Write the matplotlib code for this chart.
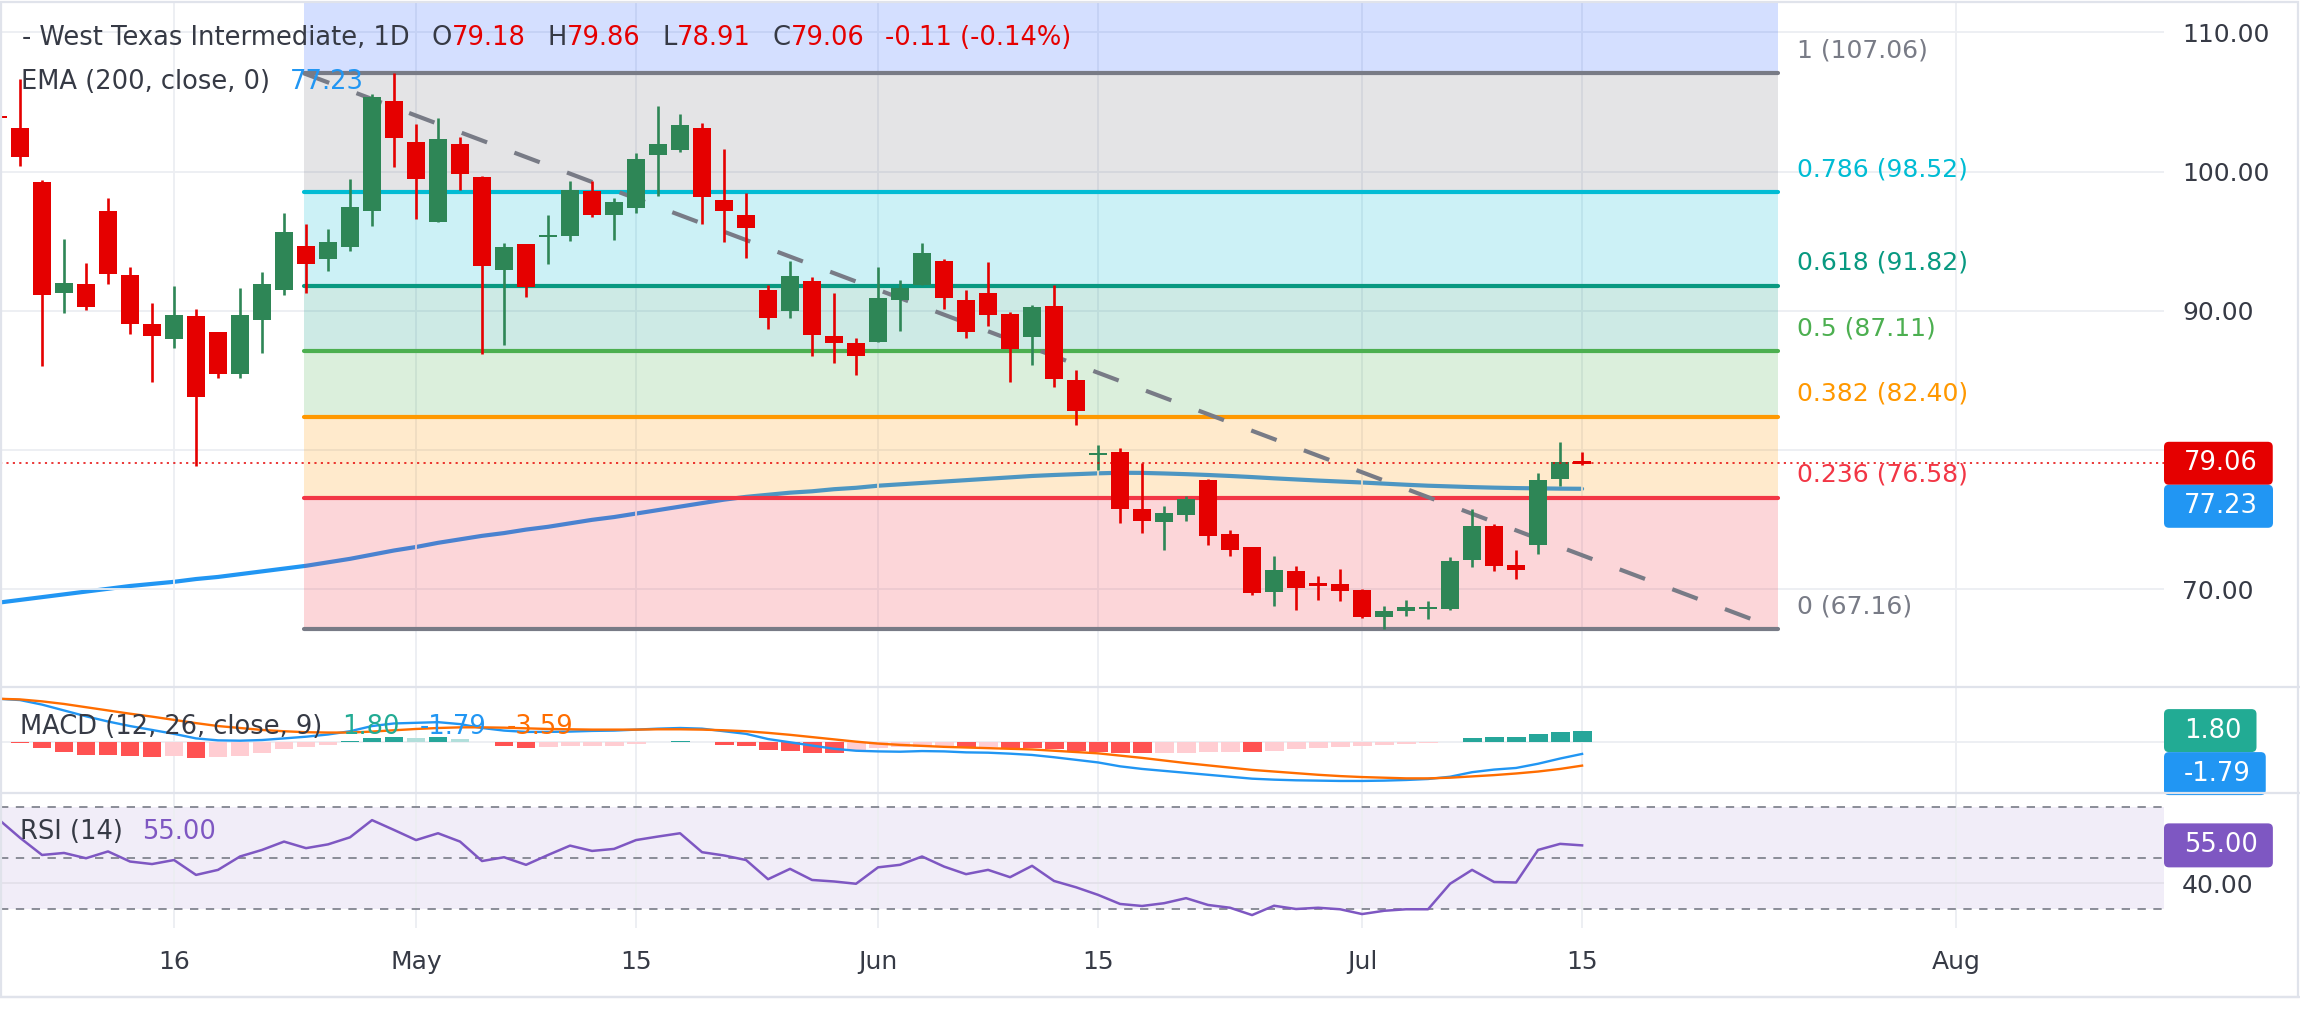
import numpy as np
import matplotlib
matplotlib.use("Agg")
import matplotlib.pyplot as plt
from matplotlib.patches import FancyBboxPatch, Rectangle
from matplotlib.lines import Line2D

plt.rcParams['font.family'] = ['DejaVu Sans']

# ---- daily candles (first one is cut off at the left edge) ----
opens = [103.95, 103.11, 99.25, 91.31, 91.93, 97.17, 92.58, 89.06, 88.0, 89.63, 88.49,
         85.47, 89.37, 91.5, 94.66, 93.75, 94.61, 97.2, 105.07, 102.13, 96.41, 101.98,
         99.61, 92.94, 94.8, 95.35, 95.4, 98.6, 96.91, 97.41, 101.19, 101.55, 103.11,
         97.96, 96.89, 91.5, 90.02, 92.15, 88.2, 87.68, 87.8, 90.81, 91.86, 93.59, 90.79,
         91.29, 89.78, 88.15, 90.35, 85.04, 79.7, 79.87, 75.78, 74.87, 75.37, 77.86, 73.98,
         73.05, 69.85, 71.33, 70.4, 70.4, 69.96, 68.03, 68.43, 68.66, 68.6, 72.12, 74.56,
         71.76, 73.22, 77.96, 79.18]
highs = [104.3, 106.65, 99.4, 95.16, 93.44, 98.1, 93.15, 90.57, 91.79, 90.11, 88.5,
         91.64, 92.79, 97.03, 96.24, 95.88, 99.47, 105.6, 107.06, 103.42, 103.85, 102.49,
         99.68, 94.88, 94.8, 96.89, 99.33, 99.33, 98.1, 101.34, 104.71, 104.14, 103.47,
         101.62, 98.44, 91.86, 93.59, 92.43, 91.29, 88.06, 93.15, 92.22, 94.88, 93.73, 91.5,
         93.51, 89.92, 90.42, 91.86, 85.76, 80.38, 80.16, 79.11, 75.99, 76.71, 77.96, 74.27,
         73.05, 72.41, 71.69, 70.97, 71.47, 70.04, 68.82, 69.25, 69.17, 72.33, 75.78, 74.7,
         72.84, 78.36, 80.59, 79.86]
lows = [103.5, 100.43, 86.07, 89.87, 90.07, 91.95, 88.37, 84.92, 87.36, 78.89, 85.21,
        85.21, 87.0, 91.14, 91.31, 92.89, 94.33, 96.12, 100.36, 96.57, 96.41, 98.71,
        86.93, 87.58, 91.0, 93.39, 95.04, 96.77, 95.11, 97.06, 98.27, 101.41, 96.24,
        94.95, 93.82, 88.73, 89.52, 86.79, 86.29, 85.42, 87.8, 88.58, 91.86, 90.14, 88.08,
        88.94, 84.92, 86.14, 84.56, 81.83, 78.58, 74.8, 74.08, 72.86, 74.94, 73.22, 72.43,
        69.61, 68.82, 68.53, 69.25, 69.17, 67.96, 67.16, 68.1, 67.88, 68.55, 71.62, 71.33,
        70.75, 72.57, 77.43, 78.91]
closes = [103.85, 101.07, 91.14, 92.0, 90.3, 92.67, 89.08, 88.22, 89.7, 83.84, 85.47,
          89.7, 91.93, 95.67, 93.39, 94.95, 97.46, 105.36, 102.44, 99.49, 102.34, 99.85,
          93.25, 94.59, 91.72, 95.45, 98.68, 96.91, 97.82, 100.9, 101.98, 103.35, 98.2,
          97.2, 95.98, 89.52, 92.51, 88.3, 87.68, 86.79, 90.93, 91.64, 94.16, 90.93, 88.51,
          89.73, 87.29, 90.28, 85.14, 82.84, 79.75, 75.8, 74.94, 75.47, 76.5, 73.87, 72.86,
          69.77, 71.4, 70.13, 70.3, 69.92, 68.03, 68.46, 68.74, 68.7, 72.05, 74.56, 71.69,
          71.43, 77.86, 79.17, 79.06]

ema200 = [69.05, 69.25, 69.45, 69.65, 69.85, 70.05, 70.25, 70.4, 70.55, 70.75, 70.9,
          71.1, 71.3, 71.5, 71.7, 71.95, 72.2, 72.5, 72.8, 73.05, 73.35, 73.6, 73.85,
          74.05, 74.3, 74.5, 74.75, 75.0, 75.2, 75.45, 75.7, 75.95, 76.2, 76.45, 76.65,
          76.8, 76.95, 77.05, 77.2, 77.3, 77.45, 77.55, 77.65, 77.75, 77.85, 77.95, 78.05,
          78.15, 78.22, 78.28, 78.34, 78.38, 78.37, 78.33, 78.28, 78.22, 78.15, 78.07,
          77.98, 77.9, 77.82, 77.75, 77.68, 77.6, 77.52, 77.45, 77.4, 77.35, 77.31, 77.28,
          77.26, 77.24, 77.23]

macd_line = [6.7, 6.5, 5.8, 4.9, 4.0, 3.2, 2.5, 1.9, 1.3, 0.6, 0.3, 0.25, 0.35, 0.6, 0.86,
             1.2, 1.7, 2.5, 2.9, 3.0, 3.1, 2.8, 2.2, 1.8, 1.6, 1.6, 1.65, 1.75, 1.8, 1.95,
             2.1, 2.2, 2.1, 1.7, 1.3, 0.5, 0.0, -0.5, -1.0, -1.3, -1.4, -1.45, -1.35, -1.4,
             -1.55, -1.6, -1.75, -1.95, -2.3, -2.7, -3.1, -3.7, -4.1, -4.4, -4.7, -5.0, -5.3,
             -5.6, -5.75, -5.85, -5.9, -5.95, -5.95, -5.9, -5.8, -5.65, -5.3, -4.6, -4.2,
             -3.95, -3.3, -2.5, -1.79]
signal_line = [6.7, 6.6, 6.3, 5.9, 5.4, 4.9, 4.4, 3.95, 3.45, 2.95, 2.5, 2.2, 1.9, 1.7,
               1.55, 1.5, 1.5, 1.65, 1.85, 2.05, 2.2, 2.3, 2.3, 2.25, 2.15, 2.05, 2.0, 1.95,
               1.95, 1.95, 2.0, 2.0, 1.95, 1.85, 1.7, 1.45, 1.15, 0.8, 0.45, 0.1, -0.2, -0.4,
               -0.55, -0.7, -0.8, -0.9, -1.0, -1.1, -1.3, -1.5, -1.7, -2.05, -2.4, -2.8,
               -3.2, -3.55, -3.9, -4.25, -4.5, -4.75, -5.0, -5.2, -5.35, -5.45, -5.55,
               -5.55, -5.45, -5.25, -5.05, -4.8, -4.5, -4.1, -3.59]
macd_hist = [0.05, -0.15, -0.92, -1.44, -1.95, -1.97, -2.1, -2.2, -2.15, -2.36, -2.3, -2.1,
             -1.59, -1.08, -0.67, -0.46, 0.2, 0.62, 0.87, 0.62, 0.87, 0.56, 0.1, -0.51,
             -0.82, -0.8, -0.56, -0.51, -0.5, -0.26, 0.1, 0.2, 0.1, -0.36, -0.51, -1.18,
             -1.33, -1.59, -1.69, -1.33, -0.92, -0.67, -0.66, -0.65, -0.82, -0.8, -0.87,
             -0.92, -1.08, -1.33, -1.55, -1.62, -1.69, -1.66, -1.59, -1.5, -1.44, -1.46,
             -1.28, -1.08, -0.82, -0.67, -0.56, -0.41, -0.31, -0.15, 0.1, 0.62, 0.77, 0.78,
             1.28, 1.64, 1.80]

rsi14 = [65.5, 58.0, 51.2, 52.0, 49.9, 52.6, 48.6, 47.6, 49.2, 43.3, 45.3, 50.6, 53.2,
         56.5, 53.9, 55.4, 58.2, 65.0, 61.1, 57.1, 59.8, 56.5, 48.8, 50.3, 47.3, 51.2,
         54.9, 52.8, 53.6, 57.1, 58.5, 59.8, 52.3, 51.0, 49.2, 41.6, 45.7, 41.3, 40.7,
         39.8, 46.3, 47.3, 50.6, 46.6, 43.6, 45.3, 42.4, 46.9, 40.9, 38.4, 35.4, 31.8,
         31.0, 32.1, 34.1, 31.4, 30.3, 27.4, 31.1, 29.8, 30.3, 29.7, 27.8, 29.1, 29.7,
         29.7, 39.8, 45.3, 40.5, 40.3, 53.2, 55.6, 55.0]

# fibonacci retracement drawing (anchor bars and levels)
fib_bars = [12.9, 79.9]
fib_ratios = ["0", "0.236", "0.382", "0.5", "0.618", "0.786", "1", "1.618"]
fib_prices = [67.16, 76.58, 82.40, 87.11, 91.82, 98.52, 107.06, 131.72]
fib_colors = ['#787b86', '#f23645', '#ff9800', '#4caf50', '#089981', '#00bcd4',
              '#787b86', '#2962ff']

date_ticks = [7, 18, 28, 39, 49, 61, 71, 88]
date_labels = ['16', 'May', '15', 'Jun', '15', 'Jul', '15', 'Aug']
price_ticks = [70, 80, 90, 100, 110]

RED = '#e50000'
GREEN = '#2e8656'
TXT = '#363a45'
GRID = '#eceef2'

W, H = 2300, 1030
fig = plt.figure(figsize=(W / 100, H / 100), dpi=100)


def px_axes(x0, y0, x1, y1):
    a = fig.add_axes([x0 / W, 1 - y1 / H, (x1 - x0) / W, (y1 - y0) / H])
    for s in a.spines.values():
        s.set_visible(False)
    a.set_xlim(-0.91, 97.45)
    a.set_xticks(date_ticks)
    a.grid(axis='x', color=GRID, lw=1.3, zorder=0)
    a.tick_params(length=0, labelbottom=False, labelleft=False)
    return a


ax = px_axes(0, 2, 2164, 686)
ax_macd = px_axes(0, 687, 2164, 792)
ax_rsi = px_axes(0, 793, 2164, 928)

x = np.arange(len(opens)) - 1
o, hi, lo, c = map(np.array, (opens, highs, lows, closes))

# ---- main price pane ----
ax.set_ylim(63.07, 112.18)
ax.set_yticks(price_ticks)
ax.set_yticklabels([f"{p:.2f}" for p in price_ticks])
ax.yaxis.tick_right()
ax.tick_params(axis='y', length=0, pad=13, labelsize=18, labelcolor=TXT, labelright=True)
ax.grid(axis='y', color=GRID, lw=1.3, zorder=0)

ax.plot(x, ema200, color='#2196f3', lw=3, zorder=1.5, solid_capstyle='round')

for i in range(1, len(fib_prices)):
    ax.fill_between(fib_bars, fib_prices[i - 1], fib_prices[i], color=fib_colors[i],
                    alpha=0.2, lw=0, zorder=2)
for r, p, col in zip(fib_ratios[:-1], fib_prices[:-1], fib_colors[:-1]):
    ax.plot(fib_bars, [p, p], color=col, lw=3, solid_capstyle='round', zorder=3)
    ax.annotate(f"{r} ({p:.2f})", xy=(fib_bars[1], p), xytext=(19, 23),
                textcoords='offset pixels', color=col, fontsize=18, va='center', ha='left')
ax.plot(fib_bars, [fib_prices[6], fib_prices[0]], color='#787b86', lw=3,
        dashes=(6.5, 7), zorder=3.5)

cols = np.where(c >= o, GREEN, RED)
body_h = np.maximum(np.abs(c - o), 0.16)
body_b = (o + c) / 2 - body_h / 2
ax.vlines(x, lo, hi, colors=cols, lw=1.9, zorder=4)
ax.bar(x, body_h, bottom=body_b, width=0.82, color=cols, zorder=5)

ax.axhline(closes[-1], color=RED, lw=1.1, ls=(0, (1.4, 2.8)), zorder=6)

# ---- MACD pane ----
ax_macd.set_ylim(-7.65, 8.51)
ax_macd.set_yticks([0])
ax_macd.grid(axis='y', color=GRID, lw=1.3, zorder=0)
hcols = []
for i, h in enumerate(macd_hist):
    prev = macd_hist[i - 1] if i > 0 else h
    if h >= 0:
        hcols.append('#26a69a' if h >= prev else '#b2dfdb')
    else:
        hcols.append('#ffcdd2' if h > prev else '#ff5252')
ax_macd.bar(x, macd_hist, width=0.86, color=hcols, zorder=2)
ax_macd.plot(x, macd_line, color='#2196f3', lw=1.7, zorder=3)
ax_macd.plot(x, signal_line, color='#ff6d00', lw=1.7, zorder=3)

# ---- RSI pane ----
ax_rsi.set_ylim(22.28, 75.74)
ax_rsi.set_yticks([40])
ax_rsi.set_yticklabels(["40.00"])
ax_rsi.yaxis.tick_right()
ax_rsi.tick_params(axis='y', length=0, pad=13, labelsize=18, labelcolor=TXT, labelright=True)
ax_rsi.grid(axis='y', color='#e3e0ea', lw=1.3, zorder=1)
ax_rsi.axhspan(30, 70, color='#7e57c2', alpha=0.1, lw=0, zorder=0.5)
for lvl in (70, 50, 30):
    ax_rsi.axhline(lvl, color='#787b86', lw=1.2, dashes=(5, 4.5), zorder=2)
ax_rsi.plot(x, rsi14, color='#7e57c2', lw=1.8, zorder=3)
ax_rsi.set_xticklabels(date_labels)
ax_rsi.tick_params(axis='x', labelbottom=True, labelsize=18, labelcolor=TXT, pad=16)

# ---- legends ----
renderer = fig.canvas.get_renderer()


def legend_row(x0, y, pieces, size=18.5):
    xx = x0
    for txt, col, gap in pieces:
        xx += gap
        t = fig.text(xx / W, 1 - y / H, txt, color=col, fontsize=size, va='center', ha='left')
        xx = t.get_window_extent(renderer).x1


chg = closes[-1] - closes[-2]
pct = chg / closes[-2] * 100
legend_row(22, 38, [("- West Texas Intermediate, 1D", TXT, 0),
                    ("O", TXT, 22), (f"{opens[-1]:.2f}", RED, 0),
                    ("H", TXT, 22), (f"{highs[-1]:.2f}", RED, 0),
                    ("L", TXT, 22), (f"{lows[-1]:.2f}", RED, 0),
                    ("C", TXT, 22), (f"{closes[-1]:.2f}", RED, 0),
                    (f"{chg:.2f} ({pct:.2f}%)", RED, 20)])
legend_row(21, 82, [("EMA (200, close, 0)", TXT, 0), (f"{ema200[-1]:.2f}", '#2196f3', 20)])
legend_row(20, 727, [("MACD (12, 26, close, 9)", TXT, 0),
                     (f"{macd_hist[-1]:.2f}", '#22ab94', 20),
                     (f"{macd_line[-1]:.2f}", '#2196f3', 20),
                     (f"{signal_line[-1]:.2f}", '#ff6d00', 20)])
legend_row(20, 832, [("RSI (14)", TXT, 0), (f"{rsi14[-1]:.2f}", '#7e57c2', 19)])


# ---- price scale tags ----
def tag(yc, text, color, h=43):
    t = fig.text((2164 + 20) / W, yc / H, text, color='white', fontsize=18.5,
                 ha='left', va='center', zorder=11)
    w = t.get_window_extent(renderer).width + 35
    fig.add_artist(FancyBboxPatch((2164 / 100, (yc - h / 2) / 100), w / 100, h / 100,
                                  boxstyle="round,pad=0,rounding_size=0.05",
                                  fc=color, ec='none', transform=fig.dpi_scale_trans,
                                  zorder=10))
    return yc


def ypx(a, v):
    return a.transData.transform((0, v))[1]


y1 = tag(ypx(ax, closes[-1]), f"{closes[-1]:.2f}", RED)
tag(min(ypx(ax, ema200[-1]), y1 - 43), f"{ema200[-1]:.2f}", '#2196f3')
y2 = tag(ypx(ax_macd, macd_hist[-1]), f"{macd_hist[-1]:.2f}", '#22ab94')
tag(min(ypx(ax_macd, macd_line[-1]), y2 - 43), f"{macd_line[-1]:.2f}", '#2196f3')
tag(ypx(ax_rsi, rsi14[-1]), f"{rsi14[-1]:.2f}", '#7e57c2', 44)

# ---- pane separators and frame ----
for yy in (686.5, 792.5, 997):
    fig.add_artist(Line2D([0, 1], [1 - yy / H] * 2, color='#e0e3eb', lw=1.6, zorder=12))
fig.add_artist(Rectangle((1 / W, 1 - 997 / H), 2297 / W, 995 / H, fill=False,
                         ec='#e0e3eb', lw=1.6, zorder=12))

fig.savefig("out.png", dpi=100)
